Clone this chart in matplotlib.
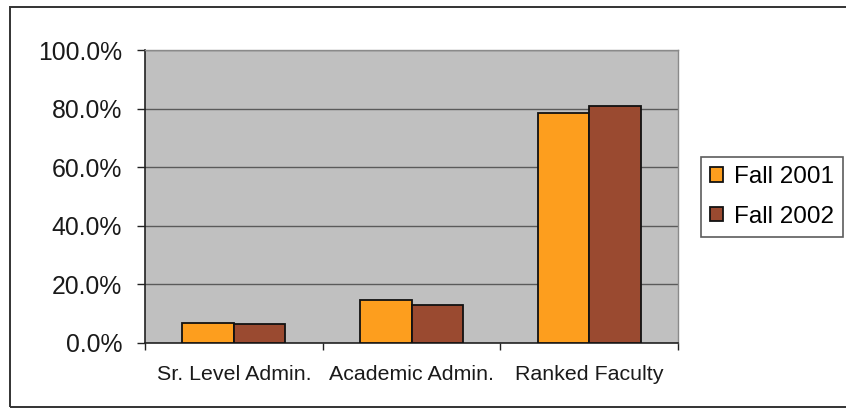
import matplotlib
matplotlib.use("Agg")
import matplotlib.pyplot as plt
import numpy as np
from matplotlib.patches import Rectangle
from matplotlib.ticker import FuncFormatter

categories = ["Sr. Level Admin.", "Academic Admin.", "Ranked Faculty"]
series_names = ["Fall 2001", "Fall 2002"]
fall_2001 = [6.9, 14.7, 78.6]
fall_2002 = [6.4, 13.1, 80.8]
y_ticks = [0, 20, 40, 60, 80, 100]

colors = ["#FD9E1E", "#9A4A30"]

plt.rcParams["font.family"] = ["Liberation Sans", "DejaVu Sans"]

fig = plt.figure(figsize=(8.46, 4.09), dpi=100)
fig.patch.set_facecolor("white")

# outer chart frame
fig.add_artist(Rectangle((10 / 846, 1 - 407 / 409), 1.0, 400 / 409,
                         transform=fig.transFigure, fill=False,
                         edgecolor="#333333", linewidth=1.4, clip_on=False))

ax = fig.add_axes([145 / 846, 1 - 343 / 409, (678 - 145) / 846, (343 - 50) / 409])
ax.set_facecolor("#C0C0C0")

x = np.arange(len(categories))
width = 0.29
for i, (vals, name) in enumerate(zip([fall_2001, fall_2002], series_names)):
    ax.bar(x + (i - 0.5) * width, vals, width, color=colors[i],
           edgecolor="#111111", linewidth=1.3, label=name, zorder=3)

ax.set_xlim(-0.5, len(categories) - 0.5)
ax.set_ylim(0, 100)
ax.set_yticks(y_ticks)
ax.yaxis.set_major_formatter(FuncFormatter(lambda v, _: f"{v:.1f}%"))
ax.tick_params(axis="y", labelsize=17.8, length=5.5, width=1, color="#222222",
               pad=11, labelcolor="#1a1a1a")

ax.set_xticks(x)
ax.set_xticklabels(categories)
ax.set_xticks(np.arange(len(categories) + 1) - 0.5, minor=True)
ax.tick_params(axis="x", which="major", length=0, labelsize=15.4, pad=16,
               labelcolor="#1a1a1a")
ax.tick_params(axis="x", which="minor", length=5, width=1, color="#222222")

ax.yaxis.grid(True, color="#5a5a5a", linewidth=1.0, zorder=1)
ax.set_axisbelow(True)

for side in ["left", "bottom"]:
    ax.spines[side].set_color("#222222")
    ax.spines[side].set_linewidth(1.2)
for side in ["top", "right"]:
    ax.spines[side].set_color("#8a8a8a")
    ax.spines[side].set_linewidth(1.0)

leg = fig.legend(loc="upper left", bbox_to_anchor=(700.5 / 846, 1 - 157 / 409),
                 fontsize=17.5, frameon=True, fancybox=False,
                 edgecolor="#333333", handlelength=0.55, handleheight=0.55,
                 handletextpad=0.45, labelspacing=0.72, borderpad=0.38,
                 borderaxespad=0)
leg.get_frame().set_linewidth(1.2)

fig.savefig("out.png", dpi=100, facecolor="white")
